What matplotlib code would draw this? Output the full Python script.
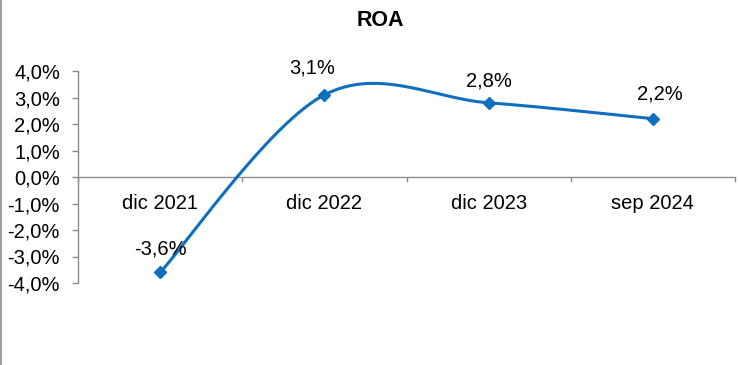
import numpy as np
import matplotlib.pyplot as plt
from matplotlib.lines import Line2D

plt.rcParams['font.family'] = ['Liberation Sans', 'DejaVu Sans']

# data
categories = ['dic 2021', 'dic 2022', 'dic 2023', 'sep 2024']
roa = [-3.6, 3.1, 2.8, 2.2]
value_labels = ['-3,6%', '3,1%', '2,8%', '2,2%']
label_offsets = [(0, 17), (-9, 19), (0, 16), (5, 18)]  # points
y_ticks = [-4, -3, -2, -1, 0, 1, 2, 3, 4]

BLUE = '#0F6FBF'
GREY = '#8C8C8C'


def smooth(xs, ys, n=60):
    """Excel-like smoothed line (Catmull-Rom as cubic Bezier)"""
    pts = np.column_stack([xs, ys]).astype(float)
    ext = np.vstack([pts[0], pts, pts[-1]])
    out = []
    for i in range(len(pts) - 1):
        p0, p1, p2, p3 = ext[i], ext[i + 1], ext[i + 2], ext[i + 3]
        c1 = p1 + (p2 - p0) / 6
        c2 = p2 - (p3 - p1) / 6
        t = np.linspace(0, 1, n)[:, None]
        seg = ((1 - t) ** 3) * p1 + 3 * (1 - t) ** 2 * t * c1 + 3 * (1 - t) * t ** 2 * c2 + t ** 3 * p2
        out.append(seg if i == 0 else seg[1:])
    out = np.vstack(out)
    return out[:, 0], out[:, 1]


def main():
    fig = plt.figure(figsize=(7.39, 3.65), dpi=100)
    ax = fig.add_axes([78 / 739, 1 - 283 / 365, (735 - 78) / 739, (283 - 71) / 365])

    x = np.arange(1, len(categories) + 1)
    sx, sy = smooth(x, roa)
    ax.plot(sx, sy, color=BLUE, lw=2.2, solid_capstyle='round', zorder=3)
    ax.plot(x, roa, ls='none', marker='D', ms=6, color=BLUE, zorder=4)

    for xi, yi, lab, off in zip(x, roa, value_labels, label_offsets):
        ax.annotate(lab, (xi, yi), xytext=off, textcoords='offset points',
                    ha='center', va='center', fontsize=14.5, color='black')

    ax.set_xlim(0.5, len(categories) + 0.5)
    ax.set_ylim(-4, 4)
    ax.set_xticks(x)
    ax.set_xticks(np.arange(0.5, len(categories) + 1), minor=True)
    ax.set_xticklabels(categories)
    ax.set_yticks(y_ticks)
    ax.set_yticklabels([f'{v:.1f}%'.replace('.', ',') for v in y_ticks])

    for s in ['top', 'right']:
        ax.spines[s].set_visible(False)
    ax.spines['bottom'].set_position(('data', 0))
    for s in ['left', 'bottom']:
        ax.spines[s].set_color(GREY)
        ax.spines[s].set_linewidth(1)

    ax.tick_params(axis='y', direction='out', length=4.5, width=1, color=GREY,
                   pad=8.5, labelsize=14.5)
    ax.tick_params(axis='x', which='major', length=0, pad=12, labelsize=14.5)
    ax.tick_params(axis='x', which='minor', direction='out', length=3.5, width=1, color=GREY)

    fig.text(380 / 739, 1 - 20 / 365, 'ROA', ha='center', va='center',
             fontsize=15.5, fontweight='bold')
    fig.add_artist(Line2D([1 / 739, 1 / 739], [0, 1], transform=fig.transFigure,
                          color=GREY, lw=1.2))

    fig.savefig('out.png', dpi=100)


if __name__ == '__main__':
    main()
